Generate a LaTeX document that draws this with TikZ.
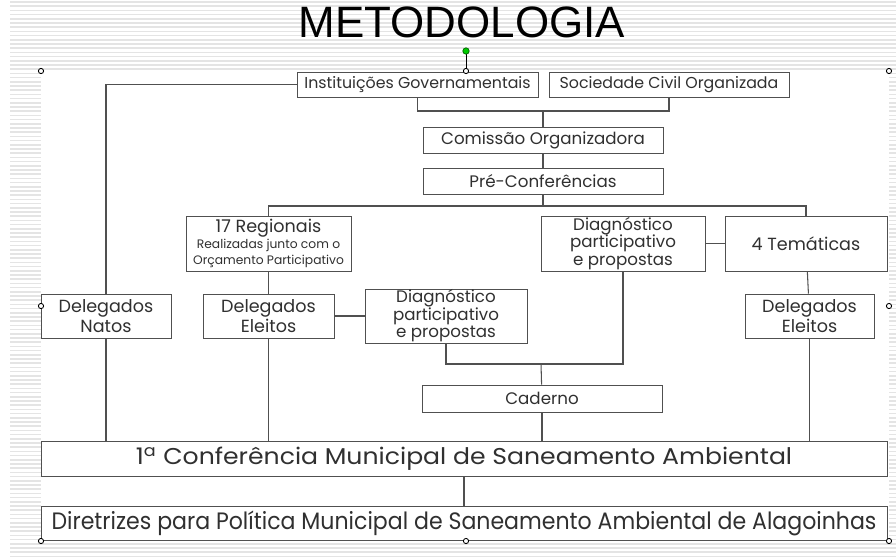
\documentclass[tikz,border=0pt]{standalone}
\usepackage{fontspec}
\setmainfont{Liberation Sans}
\newfontfamily\gothic{Poppins}
\newfontfamily\gothicwide[FakeStretch = 1.1]{Poppins}
\newfontfamily\gothicdir[FakeStretch = 0.93]{Poppins}
\usetikzlibrary{positioning}

\definecolor{linegray}{HTML}{505050}
\definecolor{textgray}{HTML}{303030}
\definecolor{stripegray}{HTML}{E4E4E4}

\tikzset{
    box/.style = {draw = linegray, fill = white, inner sep = 0pt, align = center,
                  text = textgray, font = \gothic\fontsize{9.5}{10}\selectfont},
    link/.style = {draw = linegray, line width = 0.6pt},
    handle/.style = {draw = black, fill = white, line width = 0.5pt}
}

\begin{document}
\begin{tikzpicture}[x = 0.02cm, y = -0.02cm]

        % Fixing the frame of the picture.
        \useasboundingbox (0, 0) rectangle (896, 559);

        % Striped background outside the slide area.
        \foreach \y in {2.0, 6.2, ..., 558.0}
            \draw[stripegray, line width = 0.9pt] (10, \y) to (896, \y);
        \fill[white] (41, 71) rectangle (889, 541);

        % Title.
        \node[font = \fontsize{25}{25}\selectfont, text = black] (title) at (462, 22) {METODOLOGIA};

        % Defining the boxes.
        \node[box, minimum width = 241*0.02cm, minimum height = 25*0.02cm, font = \gothic\fontsize{9}{10}\selectfont] (inst) at (417.5, 84.5) {Instituições Governamentais};
        \node[box, minimum width = 240*0.02cm, minimum height = 25*0.02cm, font = \gothic\fontsize{9}{10}\selectfont] (soc) at (669, 84.5) {Sociedade Civil Organizada};
        \node[box, minimum width = 240*0.02cm, minimum height = 26*0.02cm] (comissao) at (543, 140) {Comissão Organizadora};
        \node[box, minimum width = 240*0.02cm, minimum height = 26*0.02cm] (pre) at (543, 181) {Pré-Conferências};
        \node[box, minimum width = 165*0.02cm, minimum height = 55*0.02cm] (reg) at (268.5, 243.5)
            {{\fontsize{10}{12}\selectfont 17 Regionais}\\[-1pt]{\fontsize{7}{8}\selectfont Realizadas junto com o}\\[-1pt]{\fontsize{7}{8}\selectfont Orçamento Participativo}};
        \node[box, minimum width = 164*0.02cm, minimum height = 55*0.02cm] (diagA) at (623, 243.5)
            {Diagnóstico\\participativo\\e propostas};
        \node[box, minimum width = 162*0.02cm, minimum height = 55*0.02cm, font = \gothic\fontsize{10}{11}\selectfont] (tem) at (806, 243.5) {4 Temáticas};
        \node[box, minimum width = 130*0.02cm, minimum height = 44*0.02cm, font = \gothic\fontsize{10}{11}\selectfont] (natos) at (106, 316) {Delegados\\Natos};
        \node[box, minimum width = 131*0.02cm, minimum height = 44*0.02cm, font = \gothic\fontsize{10}{11}\selectfont] (eleitosA) at (268.5, 316) {Delegados\\Eleitos};
        \node[box, minimum width = 162*0.02cm, minimum height = 54*0.02cm] (diagB) at (446, 316)
            {Diagnóstico\\participativo\\e propostas};
        \node[box, minimum width = 129*0.02cm, minimum height = 44*0.02cm, font = \gothic\fontsize{10}{11}\selectfont] (eleitosB) at (809.5, 316) {Delegados\\Eleitos};
        \node[box, minimum width = 240*0.02cm, minimum height = 27*0.02cm] (caderno) at (542, 398.5) {Caderno};
        \node[box, minimum width = 846*0.02cm, minimum height = 35*0.02cm, font = \gothicwide\fontsize{13}{14}\selectfont] (conf) at (464, 458.5)
            {1\textsuperscript{a} Conferência Municipal de Saneamento Ambiental};
        \node[box, minimum width = 846*0.02cm, minimum height = 34*0.02cm, font = \gothicdir\fontsize{13.5}{14}\selectfont] (dir) at (464, 523)
            {Diretrizes para Política Municipal de Saneamento Ambiental de Alagoinhas};

        % Junction points.
        \coordinate (j1) at (543, 111);
        \coordinate (j2) at (543, 206);
        \coordinate (j3) at (541, 364);

        % Connecting the boxes.
        \draw[link] (inst.west) -| (natos.north);
        \draw[link] (inst.south) |- (j1) -| (soc.south);
        \draw[link] (j1) to (comissao);
        \draw[link] (comissao) to (pre);
        \draw[link] (pre) to (j2);
        \draw[link] (reg.north) |- (j2) -| (tem.north);
        \draw[link] (diagA) to (tem);
        \draw[link] (reg) to (eleitosA);
        \draw[link] (eleitosA) to (diagB);
        \draw[link] (tem) to (eleitosB);
        \draw[link] (diagB.south) |- (j3) -| (diagA.south);
        \draw[link] (j3) to (caderno);
        \draw[link] (natos.south) to (natos.south |- conf.north);
        \draw[link] (eleitosA.south) to (eleitosA.south |- conf.north);
        \draw[link] (caderno.south) to (caderno.south |- conf.north);
        \draw[link] (eleitosB.south) to (eleitosB.south |- conf.north);
        \draw[link] (conf) to (dir);

        % Selection handles.
        \draw[black, line width = 0.5pt] (466, 51) to (466, 71);
        \draw[fill = green!80!black, draw = green!40!black] (466, 51) circle (3.2);
        \foreach \p in {(41, 71), (466, 71), (889, 71), (41, 306), (889, 306), (41, 541), (466, 541), (889, 541)}
            \draw[handle] \p circle (2.6);
    \end{tikzpicture}
\end{document}
